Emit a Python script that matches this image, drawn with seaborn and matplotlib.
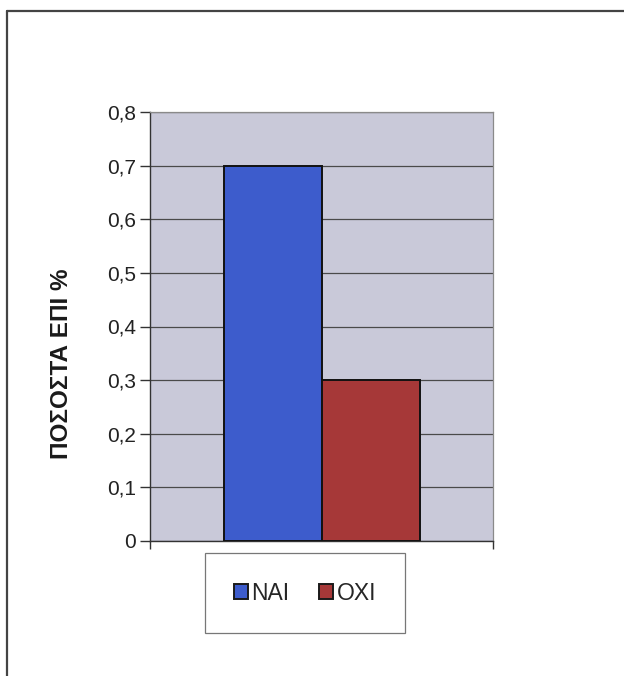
import matplotlib
matplotlib.use("Agg")
import matplotlib.pyplot as plt
from matplotlib.patches import Patch
from matplotlib.lines import Line2D
import seaborn as sns
import pandas as pd

# Answers and their shares
categories = ["ΝΑΙ", "ΟΧΙ"]
values = [0.7, 0.3]
colors = ["#3d5ccc", "#a63838"]
ytick_values = [0, 0.1, 0.2, 0.3, 0.4, 0.5, 0.6, 0.7, 0.8]
ytick_labels = ["0", "0,1", "0,2", "0,3", "0,4", "0,5", "0,6", "0,7", "0,8"]
ylabel = "ΠΟΣΟΣΤΑ ΕΠΙ %"

sns.set_theme(style="white")
plt.rcParams["font.family"] = ["Liberation Sans", "DejaVu Sans"]

df = pd.DataFrame({"answer": categories, "share": values})

fig = plt.figure(figsize=(6.24, 6.76), dpi=100)
fig.patch.set_facecolor("white")
ax = fig.add_axes([150 / 624, 135 / 676, 343 / 624, 429 / 676])
ax.set_facecolor("#c9c9d9")

sns.barplot(data=df, x="answer", y="share", hue="answer", palette=colors,
            saturation=1, width=1.0, edgecolor="#111111", linewidth=1.4,
            legend=False, ax=ax, zorder=3)

ax.set_ylim(0, 0.8)
ax.set_xlim(-1.25, 2.25)
ax.set_yticks(ytick_values)
ax.set_yticklabels(ytick_labels, fontsize=15, color="#222222")
ax.set_xticks([-1.25, 2.25])
ax.set_xticklabels([])
ax.tick_params(axis="y", direction="out", length=7, width=1, color="#333333", pad=3, left=True)
ax.tick_params(axis="x", direction="out", length=6, width=1, color="#333333", bottom=True)
ax.set_xlabel("")
ax.set_ylabel("")
ax.yaxis.grid(True, color="#4a4a4a", linewidth=0.9, zorder=1)
ax.set_axisbelow(True)

for side in ["top", "right"]:
    ax.spines[side].set_visible(True)
    ax.spines[side].set_color("#8a8a8a")
    ax.spines[side].set_linewidth(0.9)
for side in ["left", "bottom"]:
    ax.spines[side].set_visible(True)
    ax.spines[side].set_color("#333333")
    ax.spines[side].set_linewidth(1.0)

fig.text(62 / 624, 1 - 364 / 676, ylabel, rotation=90, ha="center", va="center",
         fontsize=17.5, fontweight="bold", color="#1a1a1a")

handles = [Patch(facecolor=c, edgecolor="#1a1a1a", linewidth=1.4, label=l)
           for c, l in zip(colors, categories)]
leg = fig.legend(handles=handles, loc="center", ncol=2,
                 bbox_to_anchor=(305 / 624, 1 - 593 / 676),
                 fontsize=16.5, frameon=True, fancybox=False,
                 handlelength=0.6, handleheight=0.6, handletextpad=0.15,
                 columnspacing=1.3, borderpad=1.25, borderaxespad=0)
frame = leg.get_frame()
frame.set_edgecolor("#555555")
frame.set_linewidth(0.9)
frame.set_facecolor("white")

# outer chart border (top and left edges)
fig.add_artist(Line2D([7 / 624, 1.0], [1 - 11 / 676, 1 - 11 / 676],
                      transform=fig.transFigure, color="#444444", linewidth=1.6))
fig.add_artist(Line2D([7 / 624, 7 / 624], [0, 1 - 11 / 676],
                      transform=fig.transFigure, color="#444444", linewidth=1.6))

fig.savefig("out.png", dpi=100, facecolor="white")
